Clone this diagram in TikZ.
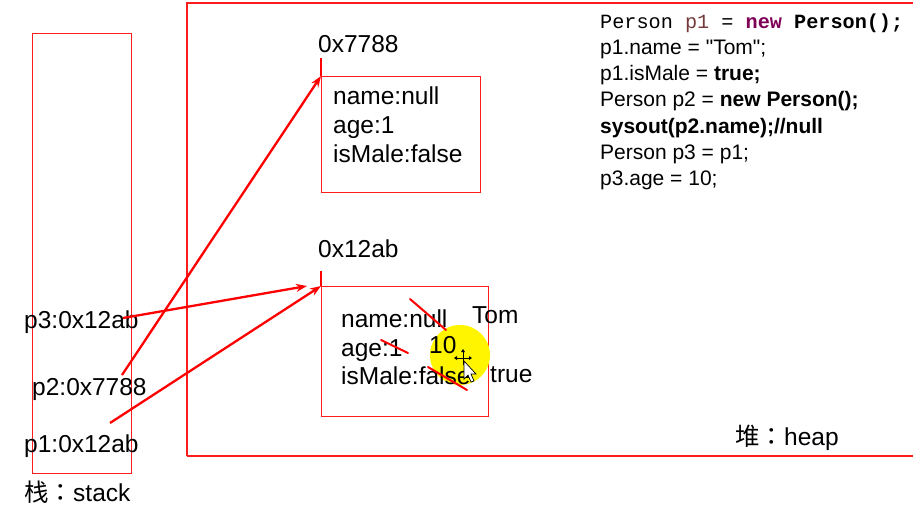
\documentclass[tikz,border=0pt]{standalone}
\usepackage{fontspec}
\setmainfont{Liberation Sans}
\newfontfamily\plainsans{Liberation Sans}
\newfontfamily\cjkfont{Noto Sans CJK SC}
\newfontfamily\cjkpunct{Noto Sans CJK TC}
\newfontfamily\codefont{Liberation Mono}
\usetikzlibrary{arrows.meta}
\definecolor{boxred}{RGB}{255,28,28}
\definecolor{kwpurple}{RGB}{127,0,85}
\definecolor{varbrown}{RGB}{116,58,58}
\definecolor{hilite}{RGB}{255,245,0}

\begin{document}
\begin{tikzpicture}[x=1pt,y=-1pt,
  frame/.style={draw=boxred,line width=1.2pt,inner sep=0pt,anchor=north west},
  tick/.style={draw=red,line width=1.8pt},
  ref/.style={draw=red,line width=2.3pt,-{Stealth[length=11pt,width=8pt]}},
  strike/.style={draw=red,line width=2pt,line cap=round},
  lbl/.style={inner sep=0pt,anchor=base west,font=\fontsize{24.5}{29}\selectfont},
  code/.style={inner sep=0pt,anchor=base west,font=\plainsans\fontsize{21}{26}\selectfont},
]
\useasboundingbox (0,0) rectangle (913,507);

% ---- stack and heap areas ----
\node[frame,minimum width=99pt,minimum height=440pt] (stack) at (32,33) {};
\draw[draw=boxred,line width=1.2pt] (187,456) -- (187,3) -- (930,3);
\draw[draw=boxred,line width=1.2pt] (187,456) -- (930,456);

% ---- stack variables ----
\node[lbl] (p3) at (24,328) {p3:0x12ab};
\node[lbl] (p2) at (32,395) {p2:0x7788};
\node[lbl] (p1) at (24,452) {p1:0x12ab};
\node[lbl] (stacklbl) at (24,501) {{\cjkfont 栈}{\cjkpunct ：}stack};
\node[lbl] (heaplbl) at (735,445) {{\cjkfont 堆}{\cjkpunct ：}heap};

% ---- object at 0x7788 ----
\node[lbl] (addr1) at (318,52) {0x7788};
\node[frame,minimum width=159pt,minimum height=116pt] (box1) at (321,76) {};
\draw[tick] (321,58) -- (box1.north west);
\node[lbl] (b1name) at (333,104) {name:null};
\node[lbl] (b1age)  at (333,133) {age:1};
\node[lbl] (b1male) at (333,162) {isMale:false};

% ---- object at 0x12ab ----
\node[lbl] (addr2) at (318,257) {0x12ab};
\node[frame,minimum width=167pt,minimum height=130pt] (box2) at (321,286) {};
\draw[tick] (321,271) -- (box2.north west);

% cursor highlight
\fill[hilite] (460,355) circle (30);

\node[lbl] (b2name) at (341,327) {name:null};
\node[lbl] (b2age)  at (341,356) {age:1};
\node[lbl] (b2male) at (341,384) {isMale:false};
\node[lbl] (newname) at (472,323) {Tom};
\node[lbl] (newage)  at (429,353) {10};
\node[lbl] (newmale) at (490,382) {true};

% crossed-out old values
\draw[strike] (410,299) -- (446,330);
\draw[strike] (381,340) -- (408,353);
\draw[strike] (428,367) -- (467,390);

% mouse cursor
\begin{scope}[shift={(463,358)}]
  \draw[black,line width=0.8pt] (-7,0) -- (7,0) (0,-7) -- (0,7);
  \fill[black] (-9,0) -- (-6,-2) -- (-6,2) -- cycle
               (9,0) -- (6,-2) -- (6,2) -- cycle
               (0,-9) -- (-2,-6) -- (2,-6) -- cycle;
  \filldraw[fill=white,draw=black,line width=0.7pt]
    (1,3) -- (1,21) -- (5,17) -- (8,24) -- (11,23) -- (8,16) -- (13,16) -- cycle;
\end{scope}

% ---- references from the stack ----
\coordinate (p3out) at (123,318);
\coordinate (p2out) at (122,375);
\coordinate (p1out) at (110,423);
\coordinate (p3in) at (307,286);
\draw[ref] (p3out) -- (p3in);
\draw[ref] (p1out) -- (box2.north west);
\draw[ref] (p2out) -- (box1.north west);

% ---- source code ----
\node[inner sep=0pt,anchor=base west,font=\codefont\fontsize{20.2}{26}\selectfont] (c1) at (600,28)
  {Person \textcolor{varbrown}{p1} = \textcolor{kwpurple}{\bfseries new} \textbf{Person();}};
\node[code] (c2) at (600,54.3) {p1.name = "Tom";};
\node[code] (c3) at (600,80.6) {p1.isMale = \textbf{true;}};
\node[code] (c4) at (600,106.9) {Person p2 = \textbf{new Person();}};
\node[code] (c5) at (600,133.2) {\textbf{sysout(p2.name);//null}};
\node[code] (c6) at (600,159.5) {Person p3 = p1;};
\node[code] (c7) at (600,185.8) {p3.age = 10;};
\end{tikzpicture}
\end{document}
